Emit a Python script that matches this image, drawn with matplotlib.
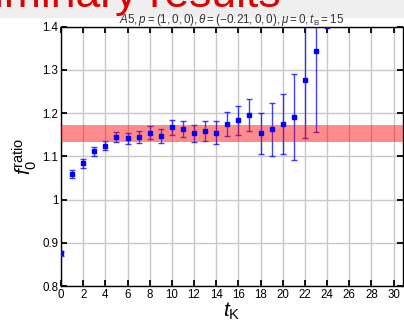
import matplotlib
matplotlib.use("Agg")
import matplotlib.pyplot as plt
from matplotlib.patches import Rectangle

t_k = list(range(0, 25))
ratio = [0.8755, 1.059, 1.084, 1.1115, 1.125, 1.1447, 1.1415, 1.1454, 1.1546, 1.147,
         1.167, 1.164, 1.153, 1.1586, 1.155, 1.174, 1.183, 1.1956, 1.153, 1.1625,
         1.1755, 1.1917, 1.2766, 1.344, 1.402]
ratio_err = [0.006, 0.010, 0.010, 0.011, 0.011, 0.012, 0.012, 0.014, 0.015, 0.016,
             0.018, 0.0185, 0.020, 0.023, 0.027, 0.028, 0.034, 0.038, 0.048, 0.061,
             0.069, 0.0995, 0.135, 0.188, 0.002]
band_lo, band_hi = 1.134, 1.172

plt.rcParams['font.family'] = ['Liberation Sans', 'DejaVu Sans']
plt.rcParams['mathtext.fontset'] = 'custom'
plt.rcParams['mathtext.rm'] = 'Liberation Sans'
plt.rcParams['mathtext.it'] = 'Liberation Sans:italic'
plt.rcParams['mathtext.bf'] = 'Liberation Sans:bold'

fig = plt.figure(figsize=(4.04, 3.25), dpi=100)

# slide header behind the plot
fig.patches.append(Rectangle((0, 1 - 18 / 325), 1, 18 / 325, transform=fig.transFigure,
                             facecolor='#eeeeee', edgecolor='none', zorder=-2))
fig.text(281 / 404, 1 - 7 / 325, "Preliminary results", ha='right', va='baseline',
         fontsize=32, color='#e00000', zorder=-1)

ax = fig.add_axes([61 / 404, 1 - 286 / 325, 342 / 404, (286 - 26.7) / 325])

ax.errorbar(t_k, ratio, yerr=ratio_err, fmt='none', ecolor='blue', elinewidth=1,
            capsize=2.2, capthick=1, alpha=0.75, zorder=2)
ax.axhspan(band_lo, band_hi, color='red', alpha=0.45, lw=0, zorder=3)
ax.plot(t_k, ratio, 's', color='blue', markersize=2.6, zorder=4)

ax.set_xlim(0, 30.85)
ax.set_ylim(0.8, 1.4)
ax.set_xticks(range(0, 31, 2))
ax.set_yticks([0.8, 0.9, 1.0, 1.1, 1.2, 1.3, 1.4])
ax.set_yticklabels(['0.8', '0.9', '1', '1.1', '1.2', '1.3', '1.4'])
ax.grid(True, color='#c8c8c8', lw=1)
ax.set_axisbelow(True)
ax.tick_params(direction='in', length=4, width=1.3, top=True, right=True,
               labelsize=8.3, pad=2)
for s in ax.spines.values():
    s.set_linewidth(1)

ax.set_xlabel(r'$t_{\mathrm{K}}$', fontsize=15, labelpad=0)
ax.set_ylabel(r'$f_0^{\mathrm{ratio}}$', fontsize=15, labelpad=2)
ax.set_title(r'$A5, p = (1, 0, 0), \theta = (-0.21, 0, 0), \mu = 0, t_{\mathrm{B}} = 15$',
             fontsize=8.4, pad=3, color='#333333')

fig.savefig('out.png', dpi=100)
